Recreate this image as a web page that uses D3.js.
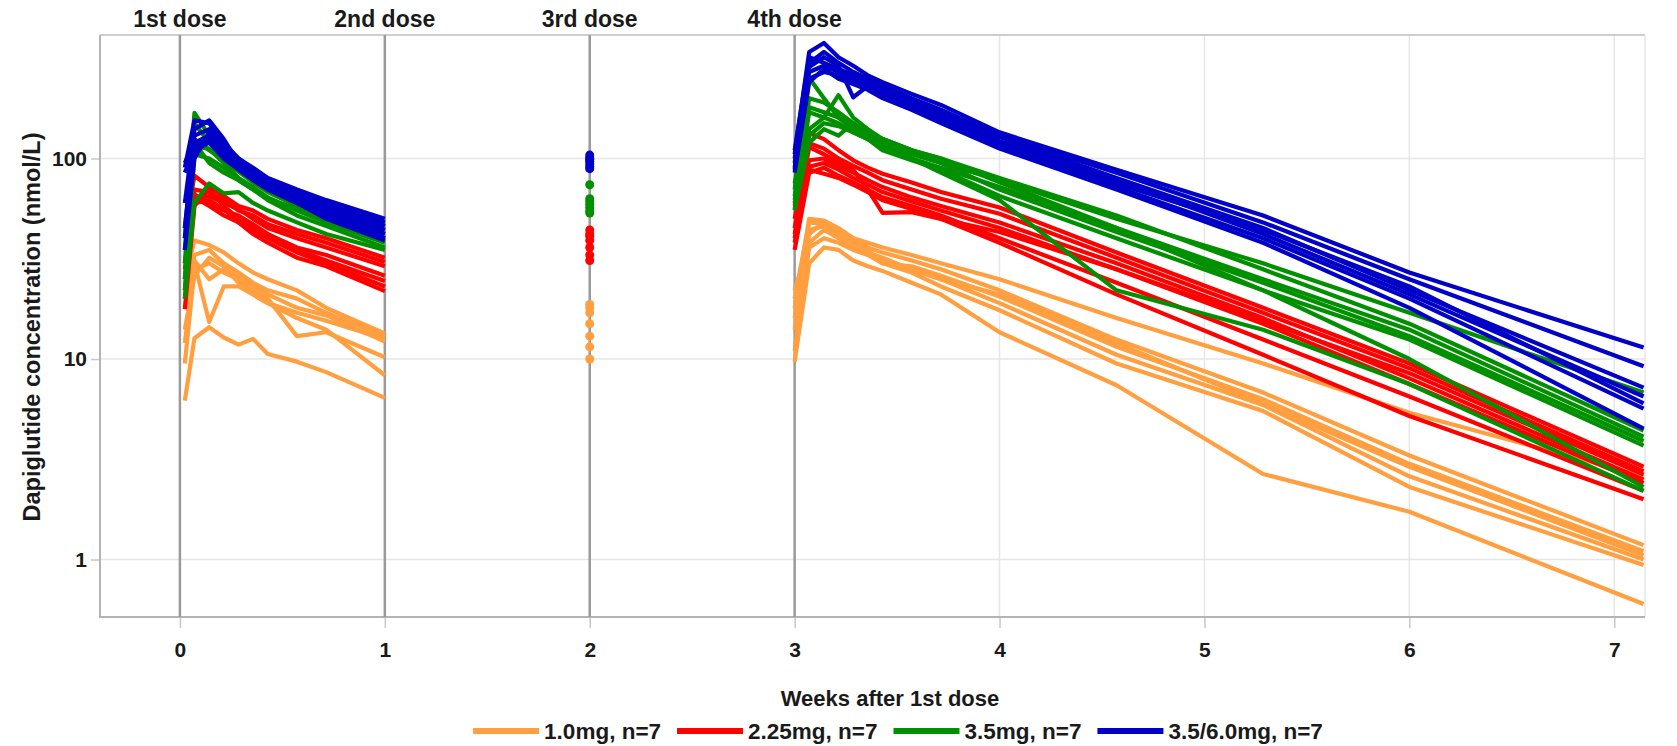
<!DOCTYPE html>
<html><head><meta charset="utf-8">
<script src="https://cdn.jsdelivr.net/npm/d3@7/dist/d3.min.js"></script>
<style>
body{margin:0;background:#fff;}
text{font-family:"Liberation Sans",Arial,sans-serif;font-weight:bold;fill:#1a1a1a;}
</style></head><body>
<svg id="c" width="1677" height="746"></svg>
<script>
// ---------- data ----------
const groups = ["1.0mg, n=7","2.25mg, n=7","3.5mg, n=7","3.5/6.0mg, n=7"];
const colors = ["#FF9F40","#FF0000","#009000","#0000C8"];
const xTicks = [0,1,2,3,4,5,6,7];
const yTicks = [1,10,100];
const doseWeeks = [0,1,2,3];
const doseLabels = ["1st dose","2nd dose","3rd dose","4th dose"];

// sampling times (weeks after 1st dose)
const t1 = [0.024,0.071,0.143,0.214,0.286,0.357,0.429,0.571,0.714,1.0];
const t4 = [3.0,3.071,3.143,3.214,3.286,3.357,3.429,3.571,3.714,4.0,4.571,5.286,6.0,7.143];
const t2 = 2.0;

// 1.0 mg
const orangeP1 = [
 [25,39,37,34,30,27,25,22,18,13.4],
 [18,33,35,30,27,24,22,20,17,13.0],
 [12,30,15.3,23,23,21,19,17,15.5,12.6],
 [22,31,25,28,26,23,21,18,16.5,12.2],
 [9.5,28,30,27,25,22,20,13,13.6,10.2],
 [14,26,32,29,24,21,19,16,14,8.3],
 [6.2,12.7,14.4,12.8,11.8,12.6,10.6,9.7,8.6,6.4]];
const orangeW2 = [18.7,18,17,15,13,11.5,10];
const orangeP4 = [
 [20,48,47,43,40,38,36,33,30,25,16,9.5,5.4,2.6],
 [18,50,49,45,40,36,34,31,28,22,12.5,6.8,3.3,1.18],
 [14,44,46,42,38,35,30,29,26,20.5,11.5,6.3,3.0,1.1],
 [22,38,44,40,36,34,32,28,25,19,10.5,5.9,2.6,1.0],
 [11,36,40,38,35,33,30,27,23,17.5,9.5,5.5,2.3,0.94],
 [16,42,48,44,38,34,31,28,25,21,12,6.0,2.9,1.05],
 [9.7,30,36,35,31,29,27.5,24,21,13.6,7.4,2.67,1.73,0.6]];

// 2.25 mg
const redP1 = [
 [45,82,72,65,58,55,50,44,40,32],
 [25,70,68,62,55,52,47,42,38,30.5],
 [20,62,65,60,56,50,45,40,36,29],
 [30,66,60,55,52,47,42,36,33,26],
 [17.7,58,70,58,50,46,42,35,31,24.5],
 [22,60,62,56,48,44,40,34,30,23],
 [28,64,58,52,48,42,38,32,29,21.8]];
const redW2 = [44,42,41,39,36,33,31];
const redP4 = [
 [58,134,125,110,98,90,84,76,68,57,34,18,9.5,2.9],
 [50,119,112,100,92,85,78,70,63,53,32,17,9.0,2.75],
 [45,114,105,96,88,70,53.5,54,50,43,28,15.5,8.5,2.65],
 [42,98,100,92,85,78,72,64,58,48,30,16,8.0,2.5],
 [40,91,95,88,80,74,68,61,55,45,28,15,7.5,2.4],
 [35,85,90,82,76,70,64,58,52,40,24,12.5,6.5,2.2],
 [38,88,84,80,74,68,62,56,50,38,21,10.5,5.2,2.0]];

// 3.5 mg
const greenP1 = [
 [40,169,130,110,95,85,75,62,55,44],
 [30,150,120,105,90,80,70,60,52,42],
 [25,125,110,98,86,76,68,58,50,40],
 [35,115,112,95,80,72,64,55,48,38],
 [22,105,100,90,78,70,62,52,46,36],
 [20,60,75,67,68,60,55,48,42,35],
 [45,120,95,85,78,70,63,56,50,47]];
const greenW2 = [74,63,61,59,57,55,53.5];
const greenP4 = [
 [70,252,200,160,140,130,120,105,95,78,50,30,17,6.8],
 [65,200,190,170,150,135,125,110,100,80,52,28,15,4.4],
 [60,170,160,150,135,125,115,100,90,72,45,25,14,4.1],
 [62,140,160,207,160,140,125,110,95,70,43,24,13,3.9],
 [56,130,150,145,135,125,110,98,88,65,40,22,12.5,3.7],
 [55,120,140,130,150,130,115,100,85,62,22,14,7.5,2.2],
 [75,180,170,160,145,135,125,110,100,76,45,22,10,2.3]];

// 3.5/6.0 mg
const blueP1 = [
 [90,155,150,120,100,90,80,70,62,50],
 [60,140,155,125,95,85,78,68,60,48],
 [45,130,140,115,100,88,76,66,58,46],
 [95,120,130,110,92,85,74,64,56,44],
 [40,115,125,105,90,80,72,62,54,42],
 [85,110,120,100,88,78,70,60,52,40],
 [35,100,135,108,95,82,72,60,50,39]];
const blueW2 = [104,101,99,97,94,91,89];
const blueP4 = [
 [105,340,377,320,290,260,240,210,185,135,88,52,27,11.4],
 [100,300,340,300,270,250,230,200,175,130,85,48,25,9.2],
 [95,286,320,290,202,230,215,190,170,128,80,45,22,7.2],
 [110,320,300,280,260,240,220,195,165,122,78,42,21,6.5],
 [90,270,290,270,250,230,210,185,160,118,75,44,23,6.0],
 [88,250,270,260,240,225,205,180,155,115,72,40,20,5.65],
 [85,240,280,250,235,220,200,175,150,112,70,38,18,4.5]];

const P1 = [orangeP1,redP1,greenP1,blueP1];
const W2 = [orangeW2,redW2,greenW2,blueW2];
const P4 = [orangeP4,redP4,greenP4,blueP4];

// ---------- drawing ----------
const svg = d3.select("#c");
const L=100, R=1645, T=35, B=617;
const x = d3.scaleLinear().domain([-0.39,7.15]).range([L,R]);
const y = d3.scaleLog().domain([0.5167,413]).range([B,T]);

// grid
svg.append("g").selectAll("line").data(xTicks.filter(d=>d>3)).join("line")
 .attr("x1",d=>x(d)).attr("x2",d=>x(d)).attr("y1",T).attr("y2",B)
 .attr("stroke","#e6e6e6").attr("stroke-width",1.5);
svg.append("g").selectAll("line").data(yTicks).join("line")
 .attr("x1",L).attr("x2",R).attr("y1",d=>y(d)).attr("y2",d=>y(d))
 .attr("stroke","#e6e6e6").attr("stroke-width",1.5);

// frame top/right
svg.append("line").attr("x1",L).attr("x2",R).attr("y1",T).attr("y2",T).attr("stroke","#bdbdbd").attr("stroke-width",1.5);
svg.append("line").attr("x1",R).attr("x2",R).attr("y1",T).attr("y2",B).attr("stroke","#e6e6e6").attr("stroke-width",1.5);

// axes
const xAxis = d3.axisBottom(x).tickValues(xTicks).tickFormat(d3.format("d")).tickSize(11).tickPadding(14);
const gx = svg.append("g").attr("transform",`translate(0,${B})`).call(xAxis);
gx.select(".domain").remove();
gx.selectAll(".tick line").attr("stroke","#c8c8c8").attr("stroke-width",1.5);
gx.selectAll(".tick text").style("font-size","21px").attr("fill","#1a1a1a");
const yAxis = d3.axisLeft(y).tickValues(yTicks).tickFormat(d3.format("d")).tickSize(9).tickPadding(4);
const gy = svg.append("g").attr("transform",`translate(${L},0)`).call(yAxis);
gy.select(".domain").remove();
gy.selectAll(".tick line").attr("stroke","#c8c8c8").attr("stroke-width",1.5);
gy.selectAll(".tick text").style("font-size","21px").attr("fill","#1a1a1a");
svg.append("line").attr("x1",L).attr("x2",L).attr("y1",T).attr("y2",B+1).attr("stroke","#b4b4b4").attr("stroke-width",2);
svg.append("line").attr("x1",L-1).attr("x2",R).attr("y1",B).attr("y2",B).attr("stroke","#b4b4b4").attr("stroke-width",2);

// dose lines
svg.append("g").selectAll("line").data(doseWeeks).join("line")
 .attr("x1",d=>x(d)).attr("x2",d=>x(d)).attr("y1",T).attr("y2",B)
 .attr("stroke","#9a9a9a").attr("stroke-width",2.5);
svg.append("g").selectAll("text").data(doseWeeks).join("text")
 .attr("x",d=>x(d)).attr("y",27).attr("text-anchor","middle").style("font-size","23px")
 .text((d,i)=>doseLabels[i]);

// lines
const line = d3.line().x(d=>x(d[0])).y(d=>y(d[1]));
const gl = svg.append("g").attr("fill","none").attr("stroke-width",4.2).attr("stroke-linejoin","round");
P1.forEach((grp,gi)=>{
  grp.forEach(s=>gl.append("path").attr("d",line(t1.map((t,i)=>[t,s[i]]))).attr("stroke",colors[gi]));
});
P4.forEach((grp,gi)=>{
  grp.forEach(s=>gl.append("path").attr("d",line(t4.map((t,i)=>[t,s[i]]))).attr("stroke",colors[gi]));
});
W2.forEach((grp,gi)=>{
  svg.append("g").selectAll("circle").data(grp).join("circle")
   .attr("cx",x(t2)).attr("cy",d=>y(d)).attr("r",4.5).attr("fill",colors[gi]);
});

// axis titles
svg.append("text").attr("x",890).attr("y",706).attr("text-anchor","middle").style("font-size","22px").text("Weeks after 1st dose");
svg.append("text").attr("transform","translate(40,327) rotate(-90)").attr("text-anchor","middle").style("font-size","23.5px").text("Dapiglutide concentration (nmol/L)");

// legend
const lg = svg.append("g");
let cx = 0;
groups.forEach((g,i)=>{
  const it = lg.append("g").attr("transform",`translate(${cx},0)`);
  it.append("line").attr("x1",0).attr("x2",66).attr("y1",0).attr("y2",0).attr("stroke",colors[i]).attr("stroke-width",6);
  const tx = it.append("text").attr("x",71).attr("y",8).style("font-size","22.5px").text(g);
  cx += 71 + tx.node().getComputedTextLength() + 16;
});
const totalW = cx - 16;
lg.attr("transform",`translate(${898-totalW/2},731)`);
</script></body></html>
